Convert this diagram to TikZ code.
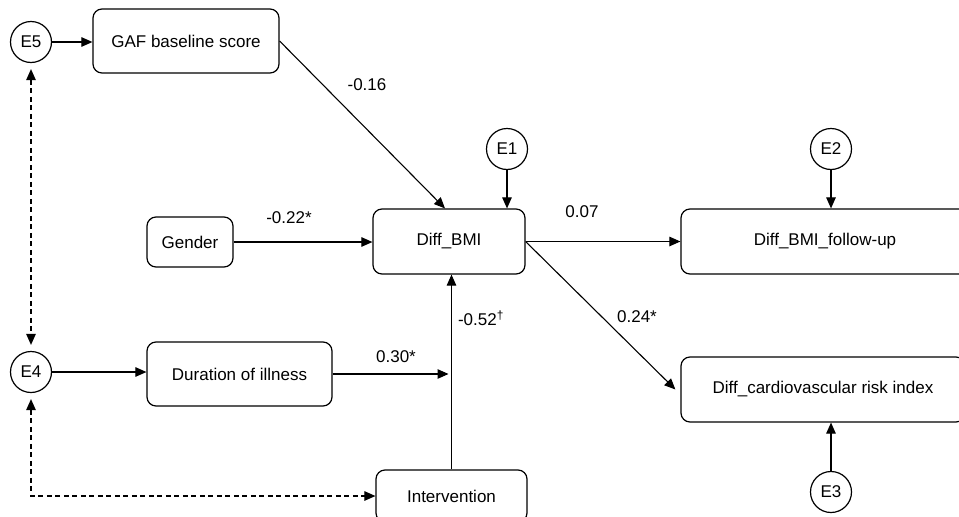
\documentclass[tikz,border=0pt]{standalone}
\usepackage{fontspec}
\setmainfont{Liberation Sans}
\usetikzlibrary{arrows.meta,calc}
\begin{document}
\begin{tikzpicture}[x=1pt,y=-1pt,
  every node/.style={font=\fontsize{17}{20}\selectfont, inner sep=0pt},
  box/.style={draw, line width=1.2pt, rounded corners=9pt, minimum width=#1, minimum height=65pt},
  err/.style={draw, circle, line width=1.2pt, minimum size=41pt},
  path/.style={line width=1.1pt, -{Triangle[length=11pt,width=9.5pt]}},
  cov/.style={line width=1.1pt, dash pattern=on 5pt off 3.5pt, {Triangle[length=11pt,width=9.5pt]}-{Triangle[length=11pt,width=9.5pt]}},
  coef/.style={anchor=center}]
\clip (0,0) rectangle (959,517);
\fill[white] (0,0) rectangle (959,517);
% nodes
\node[err] (E5) at (31,42) {E5};
\node[box=186pt, minimum height=64pt] (GAF) at (186,41) {GAF baseline score};
\node[box=86pt, minimum height=50pt] (Gender) at (190,242) {Gender};
\node[box=152pt] (BMI) at (449,241.5) {Diff\_BMI};
\node[err] (E1) at (507,149) {E1};
\node[box=288pt] (FU) at (825,241.5) {Diff\_BMI\_follow-up};
\node[err] (E2) at (831,149) {E2};
\node[box=284pt] (CV) at (823,389.5) {Diff\_cardiovascular risk index};
\node[err] (E3) at (831,492) {E3};
\node[err] (E4) at (31,372) {E4};
\node[box=185pt, minimum height=64pt] (Dur) at (239.5,374) {Duration of illness};
\node[box=151pt, minimum height=52pt] (Int) at (451.5,496) {Intervention};
\coordinate (J) at (Int.north |- Dur.east);
\coordinate (C) at (E4.south |- Int.west);
% paths
\draw[path] (E5.east) -- (GAF.west |- E5.east);
\draw[path] (GAF.east) -- ([xshift=-4pt]BMI.north);
\draw[path] (Gender.east) -- (BMI.west |- Gender.east);
\draw[path] (E1.south) -- (E1.south |- BMI.north);
\draw[path] (BMI.east) -- (FU.west |- BMI.east);
\draw[path] (BMI.east) -- ([xshift=-5pt]CV.west);
\draw[path] (E2.south) -- (E2.south |- FU.north);
\draw[path] (E3.north) -- (E3.north |- CV.south);
\draw[path] (E4.east) -- (Dur.west |- E4.east);
\draw[path, shorten >=3pt] (Dur.east) -- (J);
\draw[path] (Int.north) -- (Int.north |- BMI.south);
\draw[cov, shorten <=6pt, shorten >=6pt] (E5.south) -- (E4.north);
\draw[cov, shorten <=6pt] (E4.south) -- (C) -- (Int.west);
% coefficients
\node[coef] (l1) at (367,85) {-0.16};
\node[coef] (l2) at (289,218) {-0.22*};
\node[coef] (l3) at (582,212) {0.07};
\node[coef] (l4) at (637,317) {0.24*};
\node[coef] (l5) at (396,357) {0.30*};
\node[coef] (l6) at (481,318) {-0.52\textsuperscript{\dag}};
\end{tikzpicture}
\end{document}
